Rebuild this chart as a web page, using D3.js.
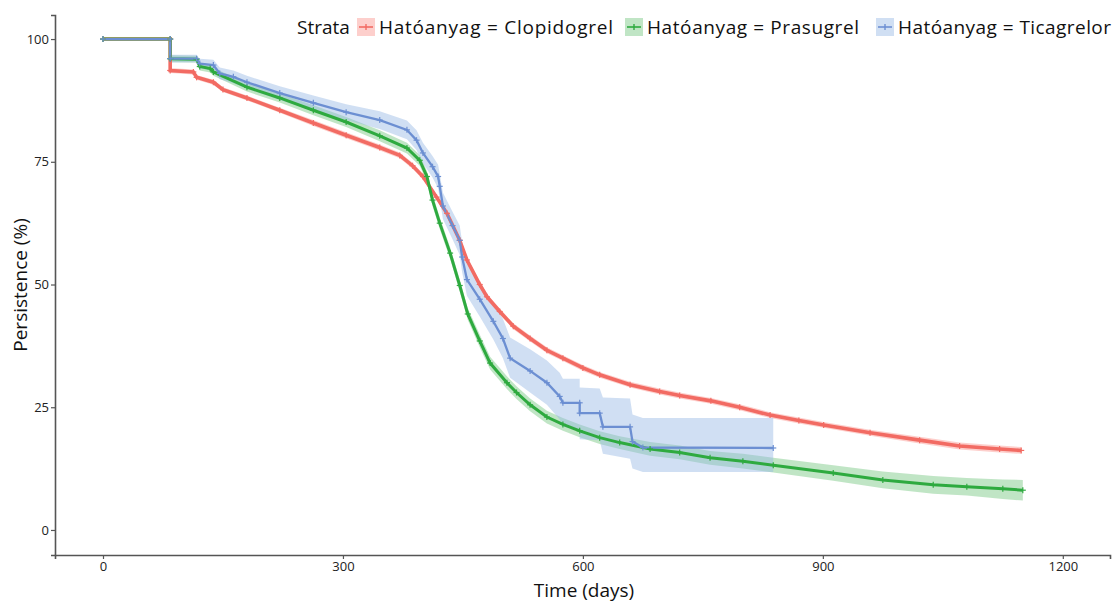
<!DOCTYPE html>
<html>
<head>
<meta charset="utf-8">
<script src="https://cdn.jsdelivr.net/npm/d3@7"></script>
<style>
  body { margin: 0; background: #fff; }
  text { font-family: "Open Sans", "Noto Sans", sans-serif; }
</style>
</head>
<body>
<svg id="chart" width="1113" height="602"></svg>
<script>
// Data -----------------------------------------------------------------------------------------------
// rows: [time (days), persistence %, lower CI, upper CI]
const clopidogrel = [
  [0,100,100,100],[84,100,100,100],[84,93.6,93.1,94.1],[113,93.3,92.8,93.8],[117,92.2,91.7,92.7],
  [138,91.2,90.7,91.7],[150,89.7,89.2,90.2],[180,88,87.5,88.5],[221,85.5,85,86],[263,82.9,82.3,83.5],
  [304,80.4,79.8,81],[346,77.9,77.3,78.5],[371,76.3,75.7,76.9],[387,74.2,73.6,74.8],[400,72,71.4,72.6],
  [417,67.8,67.2,68.4],[430,64.5,63.9,65.1],[446,59,58.4,59.6],[455,55,54.4,55.6],[471,50,49.4,50.6],
  [480,47.5,46.9,48.1],[496,44.5,43.9,45.1],[513,41.5,40.9,42.1],[534,39,38.4,39.6],[555,36.6,36,37.2],
  [575,35,34.4,35.6],[600,33,32.4,33.6],[621,31.6,31,32.2],[659,29.6,29,30.2],[696,28.2,27.6,28.8],
  [721,27.4,26.8,28],[760,26.3,25.7,26.9],[796,25,24.4,25.6],[834,23.4,22.8,24],[870,22.3,21.7,22.9],
  [901,21.4,20.8,22],[959,19.8,19.2,20.4],[1021,18.3,17.6,19],[1071,17.1,16.4,17.8],[1121,16.5,15.8,17.2],
  [1148,16.2,15.5,16.9]
];
const prasugrel = [
  [0,100,100,100],[84,100,100,100],[84,96,95.3,96.7],[117,95.9,95.2,96.6],[121,94.4,93.6,95.2],
  [134,94,93.2,94.8],[138,93.3,92.5,94.1],[180,90.2,89.3,91.1],[221,88,87.1,88.9],[263,85.5,84.5,86.5],
  [304,83.1,82.1,84.1],[346,80.3,79.2,81.4],[380,77.8,76.7,78.9],[396,75.3,74.2,76.4],[405,72,70.9,73.1],
  [412,67.2,66,68.4],[421,62.5,61.3,63.7],[434,56.4,55.2,57.6],[446,49.8,48.6,51],[456,44,42.8,45.2],
  [471,38.5,37.2,39.8],[484,34,32.7,35.3],[505,30,28.7,31.3],[517,28,26.7,29.3],[534,25.5,24.2,26.8],
  [555,23,21.7,24.3],[575,21.5,20.2,22.8],[596,20.2,18.9,21.5],[621,18.8,17.5,20.1],[646,17.8,16.5,19.1],
  [684,16.5,15.1,17.9],[721,15.8,14.4,17.2],[759,14.7,13.3,16.1],[800,14,12.5,15.5],[838,13.2,11.7,14.7],
  [913,11.6,10,13.2],[975,10.2,8.5,11.9],[1038,9.2,7.4,11],[1080,8.8,7,10.6],[1125,8.4,6.3,10.3],
  [1150,8.1,6,10.2]
];
const ticagrelor = [
  [0,100,100,100],[84,100,100,100],[84,96,95.2,96.8],[117,96,95.2,96.8],[121,95,94,96],
  [138,94.7,93.6,95.8],[146,93,91.8,94.2],[163,92.3,91,93.6],[180,91.2,89.9,92.5],[221,89,87.6,90.4],
  [263,87,85.5,88.5],[304,85.1,83.5,86.7],[346,83.5,81.7,85.3],[380,81.5,79.6,83.4],[392,79.4,77.4,81.4],
  [400,76.8,74.7,78.9],[412,74,71.8,76.2],[419,72,69.6,74.4],[421,70,67.5,72.5],[425,66,63.3,68.7],
  [437,62,59.2,64.8],[446,59,56,62],[449,55.6,52.5,58.7],[455,51,47.7,54.3],[471,47,43.5,50.5],
  [488,42.5,38.8,46.2],[500,39,35,43],[509,35,31,39.2],[534,32.4,28,36.8],[555,30,25.5,34.5],
  [571,27.2,22.5,32],[575,25.9,21,30.8],[596,25.9,20.5,30.8],[596,23.8,18.5,29],[621,23.8,18.3,28.8],
  [625,21,15.5,27],[659,21,14.5,26.8],[662,18,12.5,23.5],[675,16.8,11.8,22.8],[838,16.7,11.8,22.8]
];

const strata = ["Hatóanyag = Clopidogrel", "Hatóanyag = Prasugrel", "Hatóanyag = Ticagrelor"];
const seriesData = [clopidogrel, prasugrel, ticagrelor];
const xTicks = [0, 300, 600, 900, 1200];
const yTicks = [0, 25, 50, 75, 100];

const lineColors = ["#F26B63", "#2EAA3F", "#6C8FD2"];
const bandColors = ["rgba(248,118,109,0.35)", "rgba(46,170,63,0.3)", "rgba(150,185,228,0.45)"];
const lineWidths = [3.6, 3, 2.3];

// SVG ------------------------------------------------------------------------------------------------
const svg = d3.select("#chart");
const x = d3.scaleLinear().domain([-60, 1259]).range([55, 1110]);
const y = d3.scaleLinear().domain([-5.1, 104.9]).range([555, 15]);

// Bands
const area = d3.area()
  .x(d => x(d[0]))
  .y0(d => y(d[2]))
  .y1(d => y(d[3]));

svg.selectAll(".band")
  .data(seriesData)
  .enter().append("path")
  .attr("class", "band")
  .attr("d", area)
  .attr("fill", (d, i) => bandColors[i]);

// Lines
const line = d3.line()
  .x(d => x(d[0]))
  .y(d => y(d[1]));

svg.selectAll(".km")
  .data(seriesData)
  .enter().append("path")
  .attr("class", "km")
  .attr("d", line)
  .attr("fill", "none")
  .attr("stroke", (d, i) => lineColors[i])
  .attr("stroke-width", (d, i) => lineWidths[i]);

// Censor marks
seriesData.forEach((s, i) => {
  const g = svg.append("g").attr("stroke", lineColors[i]).attr("stroke-width", 1.2);
  s.forEach(d => {
    const cx = x(d[0]), cy = y(d[1]);
    g.append("line").attr("x1", cx - 3).attr("x2", cx + 3).attr("y1", cy).attr("y2", cy);
    g.append("line").attr("x1", cx).attr("x2", cx).attr("y1", cy - 3).attr("y2", cy + 3);
  });
});

// Axes -----------------------------------------------------------------------------------------------
const axisColor = "#555";
const xAxis = svg.append("g")
  .attr("transform", "translate(0,555)")
  .call(d3.axisBottom(x).tickValues(xTicks).tickFormat(d3.format("d")).tickSize(4).tickPadding(3));
const yAxis = svg.append("g")
  .attr("transform", "translate(55,0)")
  .call(d3.axisLeft(y).tickValues(yTicks).tickFormat(d3.format("d")).tickSize(4).tickPadding(2));

[xAxis, yAxis].forEach(a => {
  a.select(".domain").attr("stroke", axisColor).attr("stroke-width", 1.6);
  a.selectAll(".tick line").attr("stroke", axisColor).attr("stroke-width", 1.2);
  a.selectAll(".tick text")
    .attr("fill", "#222")
    .style("font-size", "13px")
    .style("font-family", "'Open Sans', sans-serif");
});

// Titles
svg.append("text")
  .attr("x", 584).attr("y", 597)
  .attr("text-anchor", "middle")
  .attr("fill", "#111")
  .style("font-size", "19px")
  .text("Time (days)");

svg.append("text")
  .attr("transform", "translate(27,285) rotate(-90)")
  .attr("text-anchor", "middle")
  .attr("fill", "#111")
  .style("font-size", "19px")
  .text("Persistence (%)");

// Legend ---------------------------------------------------------------------------------------------
const legend = svg.append("g").attr("transform", "translate(0,27)");
legend.append("text")
  .attr("x", 297).attr("y", 7)
  .attr("fill", "#111")
  .style("font-size", "19px")
  .text("Strata");

const keyX = [357, 625, 876];
const labelWidths = [234, 212, 213];
strata.forEach((name, i) => {
  const k = legend.append("g").attr("transform", `translate(${keyX[i]},0)`);
  k.append("rect")
    .attr("x", 0).attr("y", -9).attr("width", 18).attr("height", 18)
    .attr("fill", bandColors[i]);
  k.append("line")
    .attr("x1", 2).attr("x2", 16).attr("y1", 0).attr("y2", 0)
    .attr("stroke", lineColors[i]).attr("stroke-width", 1.6);
  k.append("line")
    .attr("x1", 9).attr("x2", 9).attr("y1", -3).attr("y2", 3)
    .attr("stroke", lineColors[i]).attr("stroke-width", 1.4);
  k.append("text")
    .attr("x", 22).attr("y", 7)
    .attr("fill", "#111")
    .attr("textLength", labelWidths[i])
    .attr("lengthAdjust", "spacing")
    .style("font-size", "19px")
    .text(name);
});
</script>
</body>
</html>
